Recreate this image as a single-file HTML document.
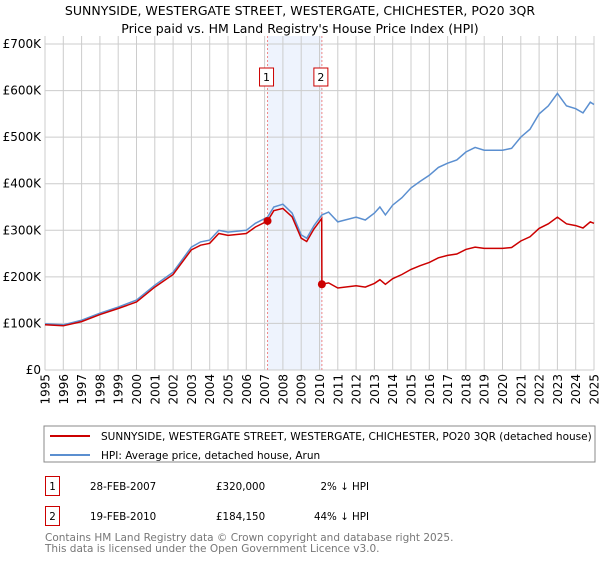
<!DOCTYPE html>
<html><head><meta charset="utf-8"><style>
body{margin:0;background:#fff;font-family:"Liberation Sans","DejaVu Sans",sans-serif;}
svg text{font-family:"DejaVu Sans","Liberation Sans",sans-serif;}
</style></head><body>
<svg id="c" width="600" height="560" viewBox="0 0 600 560" xmlns="http://www.w3.org/2000/svg">
<text x="300" y="15" text-anchor="middle" font-size="12.5">SUNNYSIDE, WESTERGATE STREET, WESTERGATE, CHICHESTER, PO20 3QR</text>
<text x="300" y="33" text-anchor="middle" font-size="12.5">Price paid vs. HM Land Registry's House Price Index (HPI)</text>
<g id="grid"></g><g id="marks"></g>
<rect x="44" y="426" width="551" height="36" fill="none" stroke="#888"/>
<line x1="50" y1="436" x2="90" y2="436" stroke="#cc0000" stroke-width="2"/>
<text x="101" y="440" font-size="10.5">SUNNYSIDE, WESTERGATE STREET, WESTERGATE, CHICHESTER, PO20 3QR (detached house)</text>
<line x1="50" y1="455" x2="90" y2="455" stroke="#5b8fd0" stroke-width="2"/>
<text x="101" y="459" font-size="10.5">HPI: Average price, detached house, Arun</text>
<g font-size="10.3">
<rect x="45.5" y="476.5" width="14" height="19" fill="none" stroke="#cc0000"/>
<text x="52.5" y="490" text-anchor="middle">1</text>
<text x="90" y="490">28-FEB-2007</text>
<text x="216" y="490">£320,000</text>
<text x="369" y="490" text-anchor="end">2% ↓ HPI</text>
<rect x="45.5" y="506.5" width="14" height="19" fill="none" stroke="#cc0000"/>
<text x="52.5" y="520" text-anchor="middle">2</text>
<text x="90" y="520">19-FEB-2010</text>
<text x="216" y="520">£184,150</text>
<text x="369" y="520" text-anchor="end">44% ↓ HPI</text>
</g>
<text x="45" y="541" font-size="10.5" fill="#777">Contains HM Land Registry data © Crown copyright and database right 2025.</text>
<text x="45" y="552" font-size="10.5" fill="#777">This data is licensed under the Open Government Licence v3.0.</text>
</svg>
<script>
const hpiYears=[1995,1996,1997,1998,1999,2000,2001,2002,2003,2003.5,2004,2004.5,2005,2006,2006.5,2007.16,2007.5,2008,2008.5,2009,2009.3,2009.7,2010.13,2010.5,2011,2012,2012.5,2013,2013.3,2013.6,2014,2014.5,2015,2015.5,2016,2016.5,2017,2017.5,2018,2018.5,2019,2019.5,2020,2020.5,2021,2021.5,2022,2022.5,2023,2023.5,2024,2024.4,2024.8,2025];
const hpiValues=[99,97,107,122,135,150,182,210,264,275,279,300,296,300,315,328,350,356,337,290,283,310,333,339,318,328,322,337,350,333,354,370,391,405,418,435,444,451,468,478,472,472,472,476,500,517,550,567,594,567,561,552,575,570];
const redYears=[1995,1996,1997,1998,1999,2000,2001,2002,2003,2003.5,2004,2004.5,2005,2006,2006.5,2007.16,2007.5,2008,2008.5,2009,2009.3,2009.7,2010.12,2010.13,2010.5,2011,2012,2012.5,2013,2013.3,2013.6,2014,2014.5,2015,2015.5,2016,2016.5,2017,2017.5,2018,2018.5,2019,2019.5,2020,2020.5,2021,2021.5,2022,2022.5,2023,2023.5,2024,2024.4,2024.8,2025];
const redValues=[97,95,104,119,132,146,178,205,258,268,272,293,289,293,307,320,342,347,329,283,276,303,325,184.15,187,176,181,178,186,194,184,196,205,216,224,231,241,246,249,259,264,261,261,261,263,277,286,304,314,328,314,310,305,318,315];
const saleYears=[2007.16,2010.13];
const saleValues=[320,184.15];
const saleLabels=["1","2"];
const yTicks=[0,100,200,300,400,500,600,700];
const yTickLabels=["£0","£100K","£200K","£300K","£400K","£500K","£600K","£700K"];
const xTicks=[1995,1996,1997,1998,1999,2000,2001,2002,2003,2004,2005,2006,2007,2008,2009,2010,2011,2012,2013,2014,2015,2016,2017,2018,2019,2020,2021,2022,2023,2024,2025];

const NS="http://www.w3.org/2000/svg";
const L=45,R=594,T=36,B=370;
const X=y=>L+(y-1995)*(R-L)/30;
const Y=v=>B-v*(B-44)/700;
function mk(p,tag,a){const e=document.createElementNS(NS,tag);for(const k in a)e.setAttribute(k,a[k]);p.appendChild(e);return e;}
const g=document.getElementById('grid'),m=document.getElementById('marks');
let sh=mk(g,'rect',{x:X(saleYears[0]),y:T,width:X(saleYears[1])-X(saleYears[0]),height:B-T,fill:'#eef3fd'});


yTicks.forEach((t,i)=>{
 const l=mk(g,'line',{x1:L,x2:R,y1:Y(t),y2:Y(t),stroke:'#ccc'});
 
 
 const tx=mk(g,'text',{x:L-4,y:Y(t)+4,'text-anchor':'end','font-size':'12'});tx.textContent=yTickLabels[i];
 
 
});
xTicks.forEach(t=>{
 const l=mk(g,'line',{x1:X(t),x2:X(t),y1:T,y2:B,stroke:'#ccc'});
 
 
 const tx=mk(g,'text',{x:0,y:0,'text-anchor':'end','font-size':'12',transform:`translate(${(X(t)+4.5).toFixed(1)},374) rotate(-90)`});tx.textContent=t;
 
 
});
saleYears.forEach((s,i)=>{
 const l=mk(m,'line',{x1:X(s),x2:X(s),y1:T,y2:B,stroke:'#e88','stroke-dasharray':'2,2'});
 
 
 const r=mk(m,'rect',{x:X(s)-8,y:68,width:14,height:18,fill:'#fff',stroke:'#cc0000'});
 
 
 const t=mk(m,'text',{x:X(s)-1,y:81,'text-anchor':'middle','font-size':'11'});t.textContent=saleLabels[i];
 
 
});
const pts=(xs,vs)=>xs.map((x,i)=>X(x).toFixed(1)+','+Y(vs[i]).toFixed(1)).join(' ');
const hp=mk(m,'polyline',{points:pts(hpiYears,hpiValues),fill:'none',stroke:'#5b8fd0','stroke-width':'1.5'});


const rp=mk(m,'polyline',{points:pts(redYears,redValues),fill:'none',stroke:'#cc0000','stroke-width':'1.5'});


saleYears.forEach((s,i)=>{
 const c=mk(m,'circle',{cx:X(s),cy:Y(saleValues[i]),r:4,fill:'#cc0000'});
 
 
});
</script>
</body></html>
